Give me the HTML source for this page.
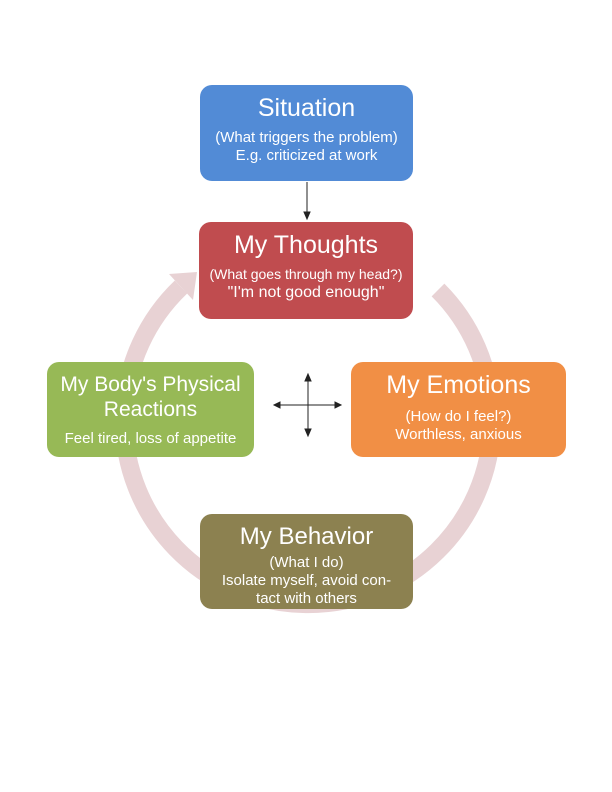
<!DOCTYPE html>
<html><head><meta charset="utf-8"><style>
body{margin:0;background:#fff;}
.box{position:absolute;border-radius:12px;color:#fff;font-family:"Liberation Sans",sans-serif;text-align:center;box-sizing:border-box;}
.t{font-size:24px;line-height:27px;}
.s{font-size:15px;line-height:18px;}
</style></head><body>
<div style="position:relative;width:612px;height:792px;overflow:hidden">
<svg width="612" height="792" style="position:absolute;left:0;top:0">
<path d="M181 287 A184 184 0 1 0 438 290" fill="none" stroke="#e8d2d4" stroke-width="18"/>
<polygon points="197,272 169,274 193,300" fill="#e8d2d4"/>
<g stroke="#222" stroke-width="1" fill="#222">
<line x1="307" y1="182" x2="307" y2="218"/><polygon points="304,212 310,212 307,219"/>
<line x1="274" y1="405" x2="341" y2="405"/><polygon points="274,405 280,402 280,408"/><polygon points="341,405 335,402 335,408"/>
<line x1="308" y1="374" x2="308" y2="436"/><polygon points="308,374 305,381 311,381"/><polygon points="308,436 305,429 311,429"/>
</g>
</svg>
<div class="box" style="left:200px;top:85px;width:213px;height:96px;background:#528bd6;padding-top:10px">
<div class="t" style="font-size:25px">Situation</div><div class="s" style="margin-top:7px">(What triggers the problem)<br>E.g. criticized at work</div></div>
<div class="box" style="left:199px;top:222px;width:214px;height:97px;background:#c04c4f;padding-top:10px">
<div class="t" style="font-size:25px">My Thoughts</div><div class="s" style="margin-top:6px;font-size:14px">(What goes through my head?)<br><span style="font-size:16px">"I'm not good enough"</span></div></div>
<div class="box" style="left:47px;top:362px;width:207px;height:95px;background:#97b956;padding-top:10px">
<div class="t" style="font-size:21px;line-height:25px">My Body's Physical<br>Reactions</div><div class="s" style="margin-top:8px">Feel tired, loss of appetite</div></div>
<div class="box" style="left:351px;top:362px;width:215px;height:95px;background:#f18f45;padding-top:10px">
<div class="t" style="font-size:25px">My Emotions</div><div class="s" style="margin-top:9px">(How do I feel?)<br>Worthless, anxious</div></div>
<div class="box" style="left:200px;top:514px;width:213px;height:95px;background:#8c8150;padding-top:9px">
<div class="t" style="font-size:24px">My Behavior</div><div class="s" style="margin-top:4px">(What I do)<br>Isolate myself, avoid con-<br>tact with others</div></div>
</div>
</body></html>
